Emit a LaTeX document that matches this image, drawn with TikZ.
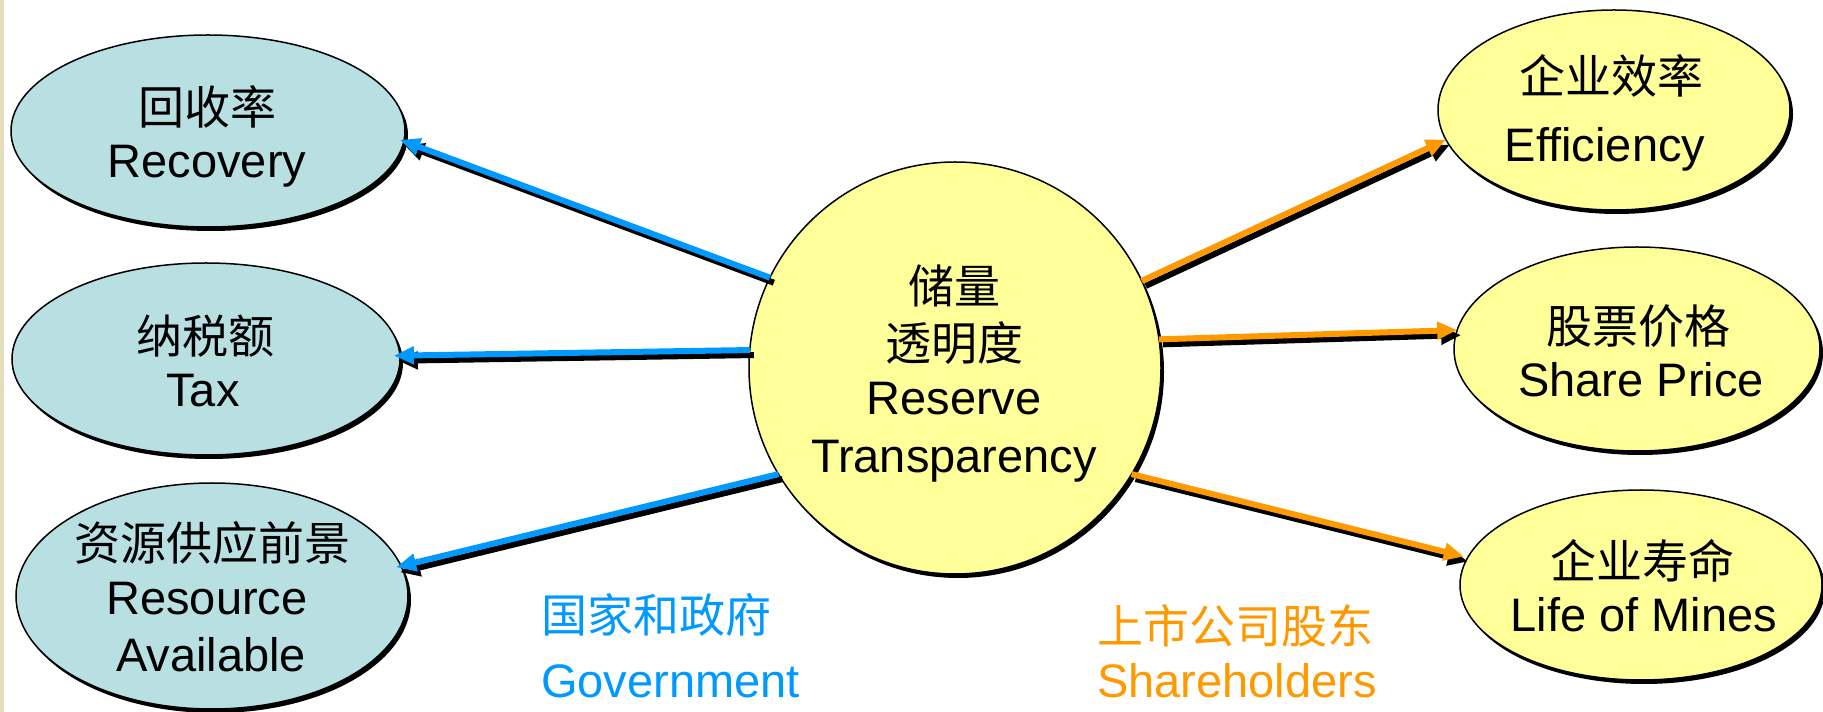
\documentclass[tikz,border=0pt]{standalone}
\usepackage{fontspec}
\setmainfont{Liberation Sans}
\newfontfamily\cjk{Noto Sans CJK SC}
\usetikzlibrary{shapes.geometric,arrows.meta,shadows}
\definecolor{gblue}{HTML}{0099FF}
\definecolor{sorange}{HTML}{FF9900}
\definecolor{lblue}{HTML}{B8E0E3}
\definecolor{lyellow}{HTML}{FFFF99}
\definecolor{strip}{HTML}{E6DCBE}
\begin{document}
\begin{tikzpicture}[x=1pt,y=1pt,
  oval/.style={ellipse, draw=black, line width=1.5pt, inner sep=0pt, outer sep=0pt,
    general shadow={fill=black, shadow xshift=3pt, shadow yshift=-4pt}},
  lat/.style={anchor=base, font=\fontsize{47}{52}\selectfont, inner sep=0pt},
  han/.style={anchor=center, font=\fontsize{46}{52}\selectfont\cjk, inner sep=0pt},
  conn/.style={line width=6pt, -{Triangle[length=20pt,width=17pt]}},
  shade/.style={conn, draw=black, transform canvas={shift={(4pt,-5pt)}}},
]
\useasboundingbox (0,0) rectangle (1823,712);
\fill[white] (0,0) rectangle (1823,712);
\fill[strip] (0,0) rectangle (4,712);

% shapes
\node[oval, fill=lblue, minimum width=394, minimum height=192] (rec) at (208,581) {};
\node[oval, fill=lblue, minimum width=388, minimum height=192] (tax) at (206,353) {};
\node[oval, fill=lblue, minimum width=392, minimum height=226] (res) at (212,116) {};
\node[oval, fill=lyellow, minimum width=352, minimum height=200] (eff) at (1614,602) {};
\node[oval, fill=lyellow, minimum width=366, minimum height=204] (shp) at (1637,363) {};
\node[oval, fill=lyellow, minimum width=362, minimum height=190] (lom) at (1641,127) {};
\node[circle, draw=black, line width=1.5pt, fill=lyellow, inner sep=0pt, outer sep=0pt,
  minimum size=412, general shadow={fill=black, shadow xshift=3pt, shadow yshift=-4pt}] (circ) at (955,344) {};

% texts
\node[han] (recZ) at (207,605) {回收率};
\node[lat] (recE) at (207,534) {Recovery};
\node[han] (taxZ) at (205,376) {纳税额};
\node[lat] (taxE) at (203,305) {Tax};
\node[han] (resZ) at (212,169) {资源供应前景};
\node[lat] (resE) at (207,97) {Resource};
\node[lat] (resE2) at (211,40) {Available};
\node[han] (cirZ) at (954,426) {储量};
\node[han] (cirZ2) at (954,369) {透明度};
\node[lat] (cirE) at (954,297) {Reserve};
\node[lat] (cirE2) at (954,239) {Transparency};
\node[han] (effZ) at (1611,636) {企业效率};
\node[lat] (effE) at (1605,550) {Efficiency};
\node[han] (shpZ) at (1638,386) {股票价格};
\node[lat] (shpE) at (1641,315) {Share Price};
\node[han] (lomZ) at (1642,151) {企业寿命};
\node[lat] (lomE) at (1644,80) {Life of Mines};
\node[han, anchor=west, text=gblue] (govZ) at (541,97) {国家和政府};
\node[lat, anchor=base west, text=gblue] (govE) at (541,14) {Government};
\node[han, anchor=west, text=sorange] (shZ) at (1097,86) {上市公司股东};
\node[lat, anchor=base west, text=sorange] (shE) at (1097,14) {Shareholders};

% connectors: black shadow first, then coloured arrow
\draw[shade, shorten >=-4pt] (circ.154) -- (rec.-3.5);
\draw[conn, draw=gblue, fill=gblue, shorten >=-4pt] (circ.154) -- (rec.-3.5);
\draw[shade, shorten >=-6pt] (circ.175.8) -- (tax.1.7);
\draw[conn, draw=gblue, fill=gblue, shorten >=-6pt] (circ.175.8) -- (tax.1.7);
\draw[shade, shorten >=-5pt] (circ.211.7) -- (res.9);
\draw[conn, draw=gblue, fill=gblue, shorten >=-5pt] (circ.211.7) -- (res.9);
\draw[shade] (circ.25.8) -- (eff.190.9);
\draw[conn, draw=sorange, fill=sorange] (circ.25.8) -- (eff.190.9);
\draw[shade] (circ.8.3) -- (shp.174.9);
\draw[conn, draw=sorange, fill=sorange] (circ.8.3) -- (shp.174.9);
\draw[shade, shorten >=4pt] (circ.-31.5) -- (lom.171.5);
\draw[conn, draw=sorange, fill=sorange, shorten >=4pt] (circ.-31.5) -- (lom.171.5);
\end{tikzpicture}
\end{document}
